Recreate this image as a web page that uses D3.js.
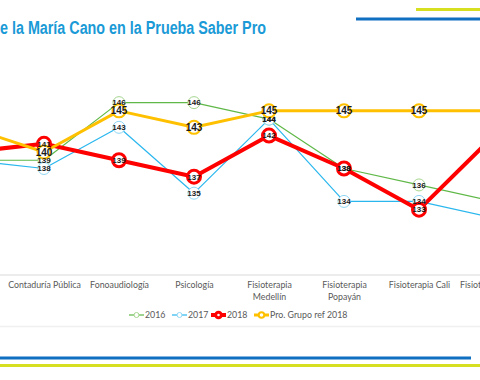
<!DOCTYPE html>
<html><head><meta charset="utf-8">
<script src="https://cdn.jsdelivr.net/npm/d3@7"></script>
<style>
html,body{margin:0;padding:0;background:#fff;overflow:hidden}
svg{display:block}
</style></head>
<body>
<svg id="chart" width="480" height="380"></svg>
<script>
// ---- data ----
const titleText = "e la María Cano en la Prueba Saber Pro";
const categories = ["Administración de Empresas", "Contaduría Pública", "Fonoaudiología", "Psicología",
  "Fisioterapia Medellín", "Fisioterapia Popayán", "Fisioterapia Cali", "Fisioterapia Neiva"];
const categoryLines = [[], ["Contaduría Pública"], ["Fonoaudiología"], ["Psicología"],
  ["Fisioterapia", "Medellín"], ["Fisioterapia", "Popayán"], ["Fisioterapia Cali"], ["Fisioterapia Neiva"]];
const seriesNames = ["2016", "2017", "2018", "Pro. Grupo ref 2018"];
const values2016 = [139, 139, 146, 146, 144, 138, 136, 134];
const values2017 = [139, 138, 143, 135, 144, 134, 134, 132];
const values2018 = [140, 141, 139, 137, 142, 138, 133, 142];
const valuesRef  = [143, 140, 145, 143, 145, 145, 145, 145];
const yDomain = [125, 150];

const svg = d3.select("#chart");

const x = d3.scalePoint().domain(categories).range([-31, 494]).padding(0);
const y = d3.scaleLinear().domain(yDomain).range([275.5, 69.7]);
const onCanvas = (i) => x(categories[i]) > 0 && x(categories[i]) < 480;

const series = [
  {name: seriesNames[0], values: values2016, color: "#5fb847", mStroke: "#a6d68f", lw: 1.2, r: 6, mw: 1, fs: 8},
  {name: seriesNames[1], values: values2017, color: "#2ab7ee", mStroke: "#8fd6f4", lw: 1.2, r: 6, mw: 1, fs: 8},
  {name: seriesNames[2], values: values2018, color: "#ff0000", mStroke: "#ff0000", lw: 4, r: 6.5, mw: 3, fs: 8},
  {name: seriesNames[3], values: valuesRef,  color: "#ffc000", mStroke: "#ffc000", lw: 3, r: 6.5, mw: 2, fs: 10}
];

// decorative bars
svg.append("line").attr("x1", 416).attr("x2", 480).attr("y1", 9.5).attr("y2", 9.5)
  .attr("stroke", "#d6e021").attr("stroke-width", 3);
svg.append("line").attr("x1", 356).attr("x2", 480).attr("y1", 19).attr("y2", 19)
  .attr("stroke", "#0f6fc0").attr("stroke-width", 3);
svg.append("line").attr("x1", 0).attr("x2", 480).attr("y1", 326.5).attr("y2", 326.5)
  .attr("stroke", "#f0f0f0").attr("stroke-width", 1.5);
svg.append("line").attr("x1", 0).attr("x2", 471).attr("y1", 358).attr("y2", 358)
  .attr("stroke", "#0f6fc0").attr("stroke-width", 3);
svg.append("line").attr("x1", 0).attr("x2", 480).attr("y1", 365.5).attr("y2", 365.5)
  .attr("stroke", "#d6e021").attr("stroke-width", 3);

// title
svg.append("text").attr("x", 0).attr("y", 34)
  .attr("font-family", "'Liberation Sans Narrow','Liberation Sans',Arial,sans-serif")
  .attr("font-weight", "bold").attr("font-size", 17.5)
  .attr("fill", "#1a9ad6")
  .attr("textLength", 266).attr("lengthAdjust", "spacingAndGlyphs")
  .text(titleText);

// x axis
const xAxis = svg.append("g").attr("transform", "translate(0,275)")
  .call(d3.axisBottom(x).tickSize(0).tickFormat(() => ""));
xAxis.select(".domain").attr("stroke", "#d9d9d9").attr("stroke-width", 1.2)
  .attr("d", "M0,0H480");
xAxis.selectAll(".tick text").each(function(d, i) {
  const t = d3.select(this);
  t.text(null).attr("y", 12.5).attr("dy", 0)
    .attr("font-family", "Lato,'Open Sans',sans-serif").attr("font-size", 8.8)
    .attr("fill", "#595959");
  categoryLines[i].forEach((ln, k) => {
    t.append("tspan").attr("x", 0).attr("dy", k === 0 ? 0 : 12).text(ln);
  });
});

const line = d3.line().x((d, i) => x(categories[i])).y(d => y(d));

// lines
series.forEach(s => {
  svg.append("path").datum(s.values).attr("d", line)
    .attr("fill", "none").attr("stroke", s.color).attr("stroke-width", s.lw)
    .attr("stroke-linejoin", "round");
});
// markers
series.forEach(s => {
  svg.append("g").selectAll("circle").data(s.values.map((v, i) => ({v, i})).filter(d => onCanvas(d.i))).join("circle")
    .attr("cx", d => x(categories[d.i])).attr("cy", d => y(d.v))
    .attr("r", s.r).attr("fill", "#fff")
    .attr("stroke", s.mStroke).attr("stroke-width", s.mw);
});
// labels
series.forEach(s => {
  svg.append("g").selectAll("text").data(s.values.map((v, i) => ({v, i})).filter(d => onCanvas(d.i))).join("text")
    .attr("x", d => x(categories[d.i])).attr("y", d => y(d.v))
    .attr("dy", "0.35em").attr("text-anchor", "middle")
    .attr("font-family", "'Liberation Sans Narrow','Liberation Sans',Arial,sans-serif")
    .attr("font-weight", "bold").attr("font-size", s.fs)
    .attr("fill", "#1a1a1a")
    .text(d => d.v);
});

// legend
const legendX = [129, 172, 211, 254];
const lg = svg.append("g").attr("transform", "translate(0,315)");
series.forEach((s, i) => {
  const g = lg.append("g").attr("transform", `translate(${legendX[i]},0)`);
  g.append("line").attr("x1", 0).attr("x2", 15).attr("y1", 0).attr("y2", 0)
    .attr("stroke", s.color).attr("stroke-width", s.lw);
  g.append("circle").attr("cx", 7.5).attr("cy", 0).attr("r", i >= 2 ? 2.8 : 2.5)
    .attr("fill", "#fff").attr("stroke", s.mStroke).attr("stroke-width", i >= 2 ? s.mw : 1);
  g.append("text").attr("x", 16).attr("y", 0).attr("dy", "0.35em")
    .attr("font-family", "Lato,'Open Sans',sans-serif").attr("font-size", 8.8)
    .attr("fill", "#595959").text(s.name);
});
</script>
</body></html>
